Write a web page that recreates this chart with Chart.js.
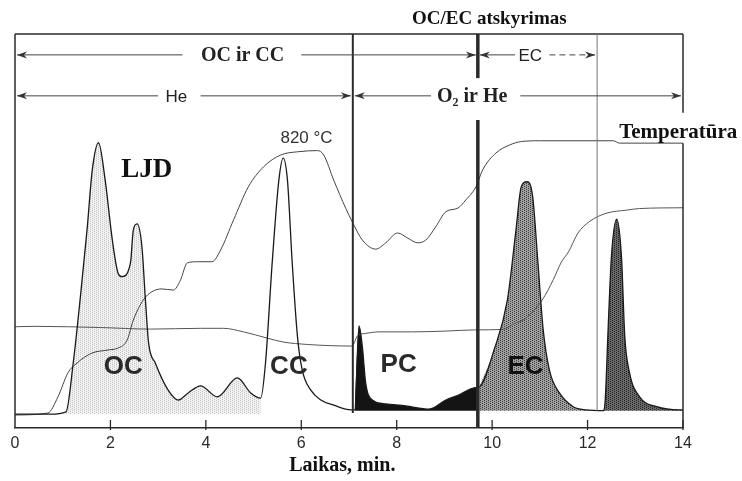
<!DOCTYPE html>
<html>
<head>
<meta charset="utf-8">
<script src="https://cdn.jsdelivr.net/npm/chart.js@4.4.0/dist/chart.umd.min.js"></script>
<style>
html, body { margin: 0; padding: 0; background: #fff; }
#wrap { width: 742px; height: 481px; position: relative; }
</style>
</head>
<body>
<div id="wrap"><canvas id="chart"></canvas></div>
<script>
// time axis (min)
const xTicks = [0, 2, 4, 6, 8, 10, 12, 14];

// LJD (FID) signal
const fidTime = [0, 0.74, 1.07, 1.22, 1.37, 1.51, 1.62, 1.75, 1.89, 2.04,
  2.16, 2.24, 2.42, 2.48, 2.56, 2.66, 2.73, 2.80, 2.94, 3.21,
  3.42, 3.63, 3.89, 4.24, 4.66, 4.94, 5.15, 5.25, 5.39, 5.53,
  5.62, 5.71, 5.81, 5.92, 6.02, 6.20, 6.41, 6.68, 7.04, 7.12,
  7.21, 7.28, 7.35, 7.49, 7.77, 8.19, 8.68, 9.03, 9.31, 9.62,
  9.73, 10.04, 10.32, 10.50, 10.61, 10.73, 10.85, 10.96, 11.07, 11.20,
  11.41, 11.70, 11.97, 12.33, 12.37, 12.43, 12.50, 12.61, 12.71, 12.78,
  12.88, 13.09, 13.45, 13.93, 14];
const fidSignal = [3.5, 3.5, 4.1, 16.5, 33.2, 50.3, 65.5, 72.4, 62.9, 47.7,
  39.3, 38.4, 41.9, 50.3, 51.8, 46.0, 33.2, 21.6, 16.5, 9.6,
  7.1, 8.9, 10.7, 7.9, 12.7, 8.9, 7.6, 16.5, 41.9, 62.9,
  68.5, 62.9, 41.9, 23.2, 14.7, 9.6, 7.1, 5.8, 4.6, 4.6,
  25.9, 20.6, 11.4, 7.1, 6.1, 5.6, 4.8, 7.1, 8.4, 10.2,
  10.4, 19.8, 32.5, 50.3, 61.2, 62.5, 58.7, 41.9, 24.9, 14.7,
  8.9, 5.4, 4.6, 4.4, 7.1, 24.9, 43.5, 53.0, 43.5, 23.2,
  14.0, 7.9, 5.4, 4.6, 4.6];

// temperature trace
const tempTime = [0, 0.69, 0.90, 1.11, 1.30, 1.61, 1.95, 2.16, 2.35, 2.48,
  2.69, 2.87, 3.08, 3.32, 3.47, 3.61, 3.82, 4.13, 4.31, 4.58,
  4.89, 5.21, 5.57, 5.92, 6.34, 6.47, 6.68, 6.93, 7.07, 7.28,
  7.56, 7.77, 8.02, 8.23, 8.44, 8.61, 8.82, 9.03, 9.28, 9.45,
  9.66, 9.80, 10.08, 10.36, 10.61, 10.99, 12.54, 12.67, 14];
const tempValue = [3.3, 3.8, 7.9, 14.0, 16.5, 19.0, 19.8, 20.3, 22.3, 27.4,
  32.5, 34.6, 35.3, 35.0, 37.6, 41.9, 42.2, 42.2, 45.2, 52.8,
  61.2, 66.3, 69.3, 70.1, 70.4, 69.3, 62.9, 55.8, 52.3, 47.7,
  45.4, 47.0, 49.5, 48.2, 47.0, 47.7, 51.1, 54.9, 55.8, 57.9,
  61.2, 65.5, 69.8, 71.8, 72.7, 72.9, 72.9, 72.3, 72.3];

// laser transmittance trace
const laserTime = [0, 0.42, 1.79, 2.84, 3.89, 4.37, 4.79, 5.29, 5.63, 6.13,
  6.62, 7.06, 7.18, 7.35, 7.63, 8.33, 9.03, 9.63, 10.21, 10.48,
  10.65, 10.84, 11.05, 11.28, 11.45, 11.60, 11.80, 12.04, 12.39, 12.82,
  13.09, 14];
const laserValue = [25.7, 25.8, 25.5, 25.1, 25.3, 25.3, 24.4, 22.8, 21.8, 21.2,
  20.9, 20.8, 23.4, 24.0, 24.4, 24.4, 24.6, 24.9, 25.0, 26.6,
  27.4, 29.4, 32.5, 37.6, 42.1, 44.7, 49.5, 52.4, 54.5, 55.3,
  55.7, 55.9];

// phase boundaries (min)
const heEnd = 7.08, ocEnd = 9.7, ecEnd = 12.2;
// peak areas (min)
const ocArea = [1.07, 5.15], pcArea = [7.12, 9.73], ecArea = [9.73, 12.33], calArea = [12.33, 14];

const pts = (t, v) => t.map((x, i) => ({x, y: v[i]}));
const fid = pts(fidTime, fidSignal);
const part = r => fid.filter(p => p.x >= r[0] && p.x <= r[1]);

function dots(bg, fg, n) {
  const c = document.createElement('canvas');
  c.width = c.height = n;
  const g = c.getContext('2d');
  g.fillStyle = bg; g.fillRect(0, 0, n, n);
  g.fillStyle = fg;
  for (let i = 0; i < n; i += 2) for (let j = (i / 2) % 2; j < n; j += 2) g.fillRect(i, j, 1, 1);
  return g.createPattern(c, 'repeat');
}

const SERIF = '"Liberation Serif", "Times New Roman", serif';
const SANS = '"Liberation Sans", Arial, sans-serif';

const rows = [
  {from: 0, to: ocEnd, y: 94.7, label: 'OC ir CC', at: 4.77, gap: [3.51, 6.0], font: 'bold 20px ' + SERIF},
  {from: ocEnd, to: ecEnd, y: 94.7, label: 'EC', at: 10.8, gap: [10.48, 11.2], font: '17px ' + SANS, dash: true},
  {from: 0, to: heEnd, y: 84.3, label: 'He', at: 3.38, gap: [3.0, 3.89], font: '17px ' + SANS},
  {from: heEnd, to: 14, y: 84.3, label: 'O₂ ir He', at: 9.58, gap: [8.72, 10.59], font: 'bold 20px ' + SERIF}
];
const labels = [
  {text: 'OC/EC atskyrimas', x: 9.94, y: 103.8, font: 'bold 19px ' + SERIF, color: '#111'},
  {text: '820 °C', x: 6.11, y: 73.6, font: '17px ' + SANS, color: '#333'},
  {text: 'LJD', x: 2.76, y: 65.5, font: 'bold 27px ' + SERIF, color: '#111'},
  {text: 'Temperatūra', x: 13.9, y: 74.9, font: 'bold 21px ' + SERIF, color: '#111'},
  {text: 'OC', x: 2.27, y: 15.5, font: 'bold 26px ' + SANS, color: '#2a2a2a'},
  {text: 'CC', x: 5.74, y: 15.5, font: 'bold 26px ' + SANS, color: '#2a2a2a'},
  {text: 'PC', x: 8.04, y: 16.0, font: 'bold 26px ' + SANS, color: '#2a2a2a'},
  {text: 'EC', x: 10.70, y: 15.5, font: 'bold 26px ' + SANS, color: '#111'},
  {text: 'Laikas, min.', x: 6.86, y: -9.6, font: 'bold 20px ' + SERIF, color: '#111'}
];

function seg(ctx, x1, y1, x2, y2, w) {
  ctx.lineWidth = w;
  ctx.beginPath(); ctx.moveTo(x1, y1); ctx.lineTo(x2, y2); ctx.stroke();
}
function head(ctx, px, py, dir) {
  ctx.beginPath();
  ctx.moveTo(px, py);
  ctx.lineTo(px - dir * 10, py - 3.5);
  ctx.lineTo(px - dir * 7, py);
  ctx.lineTo(px - dir * 10, py + 3.5);
  ctx.closePath(); ctx.fill();
}

const overlay = {
  id: 'overlay',
  afterDatasetsDraw(chart) {
    const {ctx, chartArea: a, scales: {x, y}} = chart;
    const X = v => x.getPixelForValue(v), Y = v => y.getPixelForValue(v);
    ctx.save();
    ctx.strokeStyle = '#2a2a2a';
    ctx.fillStyle = '#2a2a2a';
    // frame
    seg(ctx, a.left, a.top, a.left, a.bottom, 1.5);
    seg(ctx, a.left, a.top, a.right, a.top, 1.5);
    seg(ctx, a.right, a.top, a.right, Y(80), 1.5);
    seg(ctx, a.right, Y(72.3), a.right, a.bottom, 1.5);
    // phase lines
    seg(ctx, X(heEnd), a.top, X(heEnd), Y(3.8), 2);
    seg(ctx, X(ocEnd), a.top, X(ocEnd), Y(88.8), 3.5);
    seg(ctx, X(ocEnd), Y(78.2), X(ocEnd), a.bottom, 3.5);
    ctx.strokeStyle = '#777';
    seg(ctx, X(ecEnd), a.top, X(ecEnd), Y(4.4), 1);
    // inner tick marks
    ctx.strokeStyle = '#2a2a2a';
    xTicks.slice(1).forEach(v => seg(ctx, X(v), a.bottom - 8, X(v), a.bottom + 2, 1.3));
    // arrows
    rows.forEach(r => {
      const py = Y(r.y), x1 = X(r.from) + 2, x2 = X(r.to) - 2;
      ctx.strokeStyle = '#444'; ctx.fillStyle = '#333';
      seg(ctx, x1, py, X(r.gap[0]), py, 1);
      if (r.dash) ctx.setLineDash([6, 4]);
      seg(ctx, X(r.gap[1]), py, x2, py, 1);
      ctx.setLineDash([]);
      head(ctx, x1, py, -1);
      head(ctx, x2, py, 1);
      ctx.font = r.font; ctx.fillStyle = '#222';
      ctx.textAlign = 'center'; ctx.textBaseline = 'middle';
      ctx.fillText(r.label, X(r.at), py + 1);
    });
    labels.forEach(l => {
      ctx.font = l.font; ctx.fillStyle = l.color;
      ctx.textAlign = 'center'; ctx.textBaseline = 'middle';
      ctx.fillText(l.text, X(l.x), Y(l.y));
    });
    ctx.restore();
  }
};

const ctx = document.getElementById('chart').getContext('2d');
const line = (data, color, w) => ({
  data, borderColor: color, borderWidth: w, pointRadius: 0, fill: false,
  cubicInterpolationMode: 'monotone', order: 0
});
const area = (data, bg, base) => ({
  data, backgroundColor: bg, borderWidth: 0, pointRadius: 0, fill: {value: base},
  cubicInterpolationMode: 'monotone', order: 1
});

new Chart(ctx, {
  type: 'line',
  data: {
    datasets: [
      line(fid, '#1a1a1a', 1.3),
      line(pts(tempTime, tempValue), '#444', 1),
      line(pts(laserTime, laserValue), '#555', 1),
      area(part(ocArea), dots('#f2f2f2', '#c2c2c2', 4), 3.5),
      area(part(pcArea), '#141414', 4.4),
      area(part(ecArea), dots('#a0a0a0', '#3a3a3a', 4), 4.4),
      area(part(calArea), dots('#6a6a6a', '#1e1e1e', 4), 4.4)
    ]
  },
  options: {
    responsive: true,
    maintainAspectRatio: false,
    animation: false,
    layout: {padding: {left: 15, top: 34, right: 59, bottom: 0}},
    plugins: {legend: {display: false}, tooltip: {enabled: false}},
    scales: {
      x: {
        type: 'linear', min: 0, max: 14,
        afterBuildTicks: s => { s.ticks = xTicks.map(v => ({value: v})); },
        afterFit: s => { s.height = 53; },
        grid: {display: true, drawOnChartArea: false, drawTicks: false},
        border: {display: true, color: '#2a2a2a', width: 1.5},
        ticks: {padding: 6, color: '#2a2a2a', font: {family: SANS, size: 16}},
        title: {display: false}
      },
      y: {type: 'linear', min: 0, max: 100, display: false}
    }
  },
  plugins: [overlay]
});
</script>
</body>
</html>
